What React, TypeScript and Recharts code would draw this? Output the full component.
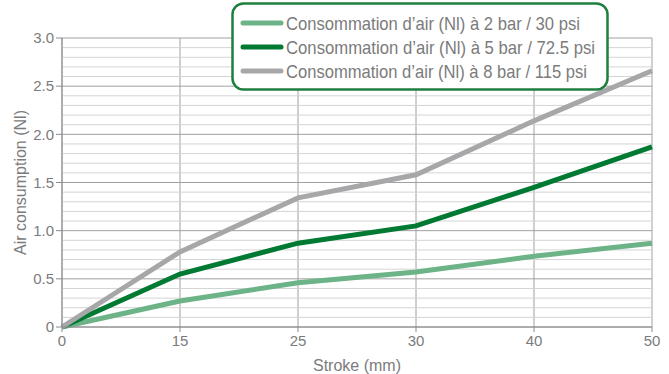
import React from "react";
import {
  LineChart,
  Line,
  XAxis,
  YAxis,
  CartesianGrid,
  ReferenceLine,
} from "recharts";

const strokes = ["0", "15", "25", "30", "40", "50"];
const bar2 = [0, 0.27, 0.46, 0.57, 0.735, 0.87];
const bar5 = [0, 0.55, 0.87, 1.05, 1.45, 1.87];
const bar8 = [0, 0.78, 1.34, 1.58, 2.14, 2.66];
const yTicks = [0, 0.5, 1, 1.5, 2, 2.5, 3];
const minorTicks = [
  0.1, 0.2, 0.3, 0.4, 0.6, 0.7, 0.8, 0.9, 1.1, 1.2, 1.3, 1.4, 1.6, 1.7, 1.8,
  1.9, 2.1, 2.2, 2.3, 2.4, 2.6, 2.7, 2.8, 2.9,
];
const seriesNames = [
  "Consommation d’air (Nl) à 2 bar / 30 psi",
  "Consommation d’air (Nl) à 5 bar / 72.5 psi",
  "Consommation d’air (Nl) à 8 bar / 115 psi",
];
const seriesColors = ["#6cb387", "#007a33", "#a7a7a9"];

const data = strokes.map((s, i) => ({
  stroke: s,
  bar2: bar2[i],
  bar5: bar5[i],
  bar8: bar8[i],
}));

const FONT = "'Liberation Sans', Arial, sans-serif";
const TEXT = "#7b7b7b";

// legend sits over the plot, like in the original, so it is drawn on top
function LegendBox() {
  const widths = [294, 309, 301];
  return (
    <svg
      width={380}
      height={92}
      style={{ position: "absolute", left: 231, top: 2, overflow: "visible" }}
    >
      <rect
        x={1.5}
        y={1.5}
        width={375}
        height={86}
        rx={11}
        fill="#fff"
        stroke="#1f7f3e"
        strokeWidth={2.5}
      />
      {seriesNames.map((name, i) => (
        <g key={name}>
          <line
            x1={12}
            x2={50}
            y1={21 + i * 24}
            y2={21 + i * 24}
            stroke={seriesColors[i]}
            strokeWidth={5}
            strokeLinecap="round"
          />
          <text
            x={55}
            y={28 + i * 24}
            fontSize={19}
            fontFamily={FONT}
            fill={TEXT}
            textLength={widths[i]}
            lengthAdjust="spacingAndGlyphs"
          >
            {name}
          </text>
        </g>
      ))}
    </svg>
  );
}

export default function App() {
  return (
    <div
      style={{
        position: "absolute",
        left: 0,
        top: 0,
        width: 669,
        height: 374,
        background: "#fff",
      }}
    >
      <LineChart
        width={669}
        height={374}
        data={data}
        margin={{ top: 38, right: 17, left: 0, bottom: 0 }}
      >
        {minorTicks.map((t) => (
          <ReferenceLine key={t} y={t} stroke="#d4d4d4" strokeWidth={1} />
        ))}
        <CartesianGrid stroke="#a0a0a0" strokeWidth={1} />
        <XAxis
          dataKey="stroke"
          height={47}
          padding={{ left: 0, right: 0 }}
          stroke="#8a8a8a"
          tickSize={5}
          tick={{ fill: TEXT, fontSize: 15, fontFamily: FONT }}
          tickMargin={3}
          label={{
            value: "Stroke (mm)",
            position: "insideBottom",
            offset: 3,
            fill: TEXT,
            fontSize: 16,
            fontFamily: FONT,
          }}
        />
        <YAxis
          width={62}
          domain={[0, 3]}
          ticks={yTicks}
          interval={0}
          tickFormatter={(v: number) => (v === 0 ? "0" : v.toFixed(1))}
          stroke="#8a8a8a"
          tickSize={6}
          tickMargin={2}
          tick={{ fill: TEXT, fontSize: 15, fontFamily: FONT }}
          label={{
            value: "Air consumption (Nl)",
            angle: -90,
            position: "insideLeft",
            offset: 20,
            style: { textAnchor: "middle" },
            fill: TEXT,
            fontSize: 16,
            fontFamily: FONT,
          }}
        />
        <Line
          dataKey="bar2"
          name={seriesNames[0]}
          stroke={seriesColors[0]}
          strokeWidth={5}
          dot={false}
          activeDot={false}
          isAnimationActive={false}
        />
        <Line
          dataKey="bar5"
          name={seriesNames[1]}
          stroke={seriesColors[1]}
          strokeWidth={5}
          dot={false}
          activeDot={false}
          isAnimationActive={false}
        />
        <Line
          dataKey="bar8"
          name={seriesNames[2]}
          stroke={seriesColors[2]}
          strokeWidth={5}
          dot={false}
          activeDot={false}
          isAnimationActive={false}
        />
      </LineChart>
      <LegendBox />
    </div>
  );
}
